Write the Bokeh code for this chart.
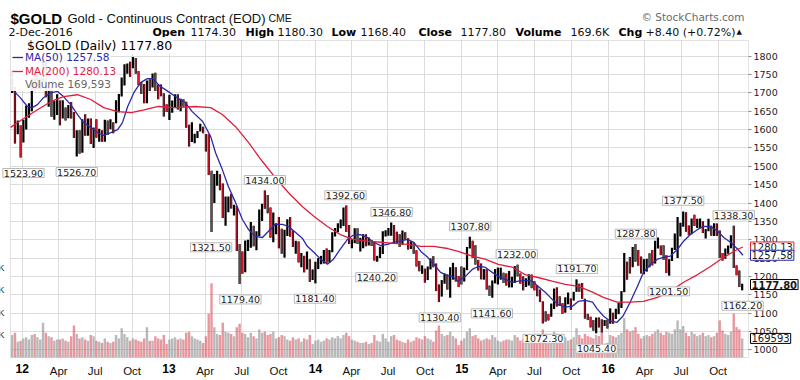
import pandas as pd
from bokeh.plotting import figure
from bokeh.models import (Range1d, FixedTicker, LinearAxis, Label, Legend, LegendItem,
                          ColumnDataSource, BoxAnnotation)
from bokeh.embed import file_html
from bokeh.resources import INLINE

# ------------------------------------------------------------------ data
first_week = "2011-12-09"     # weekly bars, week ending Friday
last_week = "2016-12-02"

high_2011 = [1763, 1716, 1625, 1612]
low_2011 = [1700, 1562, 1587, 1524]
close_2011 = [1713, 1598, 1606, 1566]
vol_2011 = [200, 220, 140, 150]

high_2012 = [1627, 1665, 1672, 1740, 1764, 1752, 1739, 1790, 1792, 1715, 1712, 1678, 1696,
             1679, 1680, 1660, 1667, 1675, 1648, 1598, 1598, 1628, 1642, 1630, 1630, 1606,
             1628, 1602, 1598, 1627, 1625, 1628, 1620, 1680, 1697, 1742, 1778, 1780, 1785,
             1798, 1795, 1760, 1730, 1724, 1734, 1737, 1753, 1755, 1723, 1723, 1699, 1669]
low_2012 = [1565, 1600, 1632, 1650, 1708, 1710, 1710, 1730, 1688, 1662, 1635, 1627, 1640,
            1612, 1630, 1625, 1631, 1630, 1577, 1527, 1534, 1537, 1583, 1583, 1561, 1550,
            1578, 1567, 1567, 1567, 1586, 1601, 1590, 1617, 1647, 1690, 1720, 1752, 1743,
            1767, 1752, 1721, 1697, 1672, 1672, 1705, 1715, 1705, 1683, 1691, 1636, 1648]
close_2012 = [1617, 1631, 1664, 1737, 1725, 1725, 1725, 1777, 1710, 1711, 1658, 1662, 1669,
              1632, 1660, 1642, 1663, 1645, 1580, 1592, 1573, 1622, 1591, 1628, 1572, 1604,
              1579, 1591, 1579, 1618, 1606, 1620, 1617, 1671, 1692, 1736, 1770, 1773, 1772,
              1780, 1759, 1724, 1711, 1675, 1730, 1714, 1750, 1712, 1702, 1696, 1658, 1656]
vol_2012 = [170, 180, 160, 200, 210, 180, 160, 310, 220, 190, 180, 150, 160,
            160, 170, 150, 140, 190, 285, 210, 170, 180, 160, 150, 200, 190,
            150, 140, 130, 170, 140, 130, 140, 200, 170, 260, 210, 180, 150,
            170, 160, 150, 140, 170, 270, 150, 150, 190, 170, 160, 200, 120]

high_2013 = [1695, 1679, 1696, 1696, 1684, 1683, 1676, 1613, 1620, 1589, 1596, 1616, 1608,
             1588, 1587, 1488, 1479, 1488, 1478, 1453, 1418, 1418, 1425, 1395, 1392, 1288,
             1268, 1298, 1300, 1348, 1338, 1323, 1382, 1398, 1434, 1422, 1388, 1374, 1345,
             1362, 1330, 1327, 1356, 1362, 1325, 1297, 1295, 1264, 1256, 1268, 1247, 1219]
low_2013 = [1626, 1646, 1660, 1655, 1650, 1663, 1605, 1554, 1566, 1563, 1577, 1595, 1590,
            1540, 1476, 1321, 1400, 1447, 1435, 1359, 1338, 1375, 1385, 1366, 1269, 1179,
            1207, 1211, 1269, 1278, 1282, 1271, 1310, 1351, 1384, 1372, 1305, 1293, 1315,
            1277, 1262, 1251, 1310, 1308, 1280, 1262, 1238, 1225, 1211, 1219, 1185, 1190]
close_2013 = [1656, 1661, 1687, 1657, 1669, 1667, 1609, 1572, 1573, 1578, 1592, 1608, 1596,
              1581, 1501, 1405, 1462, 1470, 1448, 1366, 1386, 1393, 1383, 1388, 1292, 1234,
              1223, 1277, 1294, 1322, 1310, 1312, 1378, 1396, 1395, 1388, 1309, 1333, 1338,
              1310, 1268, 1315, 1352, 1315, 1287, 1289, 1243, 1250, 1230, 1235, 1203, 1214]
vol_2013 = [160, 170, 180, 160, 170, 160, 220, 230, 190, 170, 160, 150, 130,
            190, 390, 660, 270, 210, 200, 310, 230, 220, 210, 190, 270, 300,
            220, 210, 180, 220, 190, 170, 250, 220, 230, 200, 210, 230, 170,
            180, 200, 190, 160, 150, 180, 160, 170, 140, 170, 160, 200, 120]

high_2014 = [1240, 1250, 1256, 1272, 1276, 1272, 1320, 1332, 1345, 1355, 1388, 1393, 1340,
             1301, 1331, 1331, 1305, 1315, 1315, 1306, 1299, 1295, 1256, 1281, 1323, 1326,
             1332, 1347, 1340, 1322, 1315, 1325, 1320, 1304, 1296, 1293, 1271, 1242, 1230,
             1221, 1227, 1249, 1255, 1235, 1178, 1190, 1208, 1205, 1225, 1237, 1225, 1201]
low_2014 = [1181, 1220, 1233, 1235, 1237, 1238, 1266, 1309, 1320, 1331, 1337, 1321, 1288,
            1277, 1290, 1288, 1268, 1277, 1282, 1284, 1283, 1243, 1240, 1250, 1261, 1309,
            1311, 1311, 1291, 1290, 1280, 1286, 1300, 1273, 1275, 1262, 1227, 1214, 1207,
            1183, 1190, 1219, 1225, 1160, 1130, 1145, 1180, 1164, 1142, 1191, 1186, 1171]
close_2014 = [1238, 1248, 1254, 1270, 1240, 1263, 1318, 1323, 1326, 1340, 1379, 1334, 1294,
              1303, 1318, 1294, 1300, 1303, 1288, 1293, 1292, 1246, 1253, 1274, 1316, 1320,
              1320, 1338, 1310, 1303, 1295, 1310, 1306, 1280, 1287, 1268, 1231, 1216, 1218,
              1192, 1222, 1239, 1231, 1171, 1169, 1185, 1201, 1175, 1191, 1222, 1196, 1195]
vol_2014 = [150, 160, 140, 150, 170, 160, 180, 170, 190, 170, 200, 220, 190,
            160, 150, 140, 130, 130, 140, 120, 130, 200, 150, 140, 210, 170,
            140, 190, 200, 160, 150, 140, 130, 160, 140, 150, 180, 170, 160,
            190, 170, 160, 140, 240, 285, 210, 190, 200, 230, 190, 170, 110]

high_2015 = [1227, 1224, 1280, 1308, 1297, 1285, 1245, 1235, 1220, 1220, 1175, 1189, 1220,
             1224, 1224, 1210, 1208, 1215, 1199, 1228, 1232, 1208, 1200, 1195, 1206, 1205,
             1187, 1175, 1164, 1132, 1105, 1097, 1126, 1167, 1170, 1146, 1127, 1143, 1156,
             1140, 1158, 1192, 1180, 1182, 1139, 1098, 1090, 1081, 1088, 1088, 1083, 1081]
low_2015 = [1178, 1186, 1217, 1276, 1250, 1232, 1216, 1192, 1191, 1164, 1147, 1142, 1181,
            1178, 1191, 1182, 1175, 1170, 1170, 1182, 1200, 1180, 1162, 1171, 1175, 1168,
            1162, 1146, 1130, 1072, 1077, 1080, 1090, 1111, 1118, 1120, 1098, 1101, 1124,
            1109, 1134, 1158, 1158, 1139, 1085, 1081, 1061, 1052, 1045, 1061, 1047, 1065]
close_2015 = [1186, 1216, 1277, 1294, 1279, 1234, 1228, 1203, 1213, 1167, 1153, 1183, 1199,
              1201, 1207, 1204, 1176, 1179, 1188, 1225, 1205, 1190, 1170, 1180, 1201, 1173,
              1163, 1159, 1131, 1099, 1095, 1094, 1113, 1160, 1134, 1121, 1103, 1138, 1145,
              1137, 1155, 1177, 1163, 1142, 1088, 1081, 1076, 1056, 1085, 1075, 1065, 1076]
vol_2015 = [150, 170, 230, 260, 190, 200, 170, 150, 160, 170, 160, 200, 180,
            150, 140, 150, 160, 160, 150, 200, 180, 150, 160, 140, 150, 170,
            150, 170, 200, 250, 210, 170, 180, 230, 210, 170, 160, 180, 150,
            160, 180, 260, 200, 170, 210, 190, 180, 170, 200, 190, 220, 100]

high_2016 = [1082, 1113, 1101, 1112, 1128, 1160, 1264, 1240, 1253, 1280, 1288, 1272, 1254,
             1247, 1248, 1263, 1272, 1297, 1306, 1284, 1285, 1258, 1247, 1278, 1317, 1362,
             1346, 1377, 1375, 1339, 1358, 1368, 1357, 1358, 1350, 1329, 1357, 1338, 1345,
             1344, 1325, 1264, 1276, 1284, 1312, 1338, 1230, 1216, 1180]
low_2016 = [1058, 1071, 1071, 1084, 1097, 1114, 1157, 1191, 1208, 1225, 1240, 1229, 1208,
            1206, 1213, 1225, 1230, 1235, 1276, 1258, 1245, 1209, 1202, 1242, 1272, 1250,
            1309, 1335, 1322, 1312, 1315, 1337, 1332, 1331, 1318, 1303, 1323, 1311, 1310,
            1310, 1250, 1243, 1248, 1262, 1277, 1223, 1203, 1171, 1162]
close_2016 = [1061, 1098, 1090, 1097, 1117, 1158, 1239, 1230, 1221, 1271, 1259, 1253, 1219,
              1223, 1243, 1235, 1231, 1291, 1294, 1273, 1252, 1216, 1244, 1275, 1298, 1322,
              1340, 1366, 1328, 1323, 1357, 1337, 1338, 1344, 1321, 1327, 1334, 1310, 1342,
              1317, 1257, 1253, 1268, 1274, 1304, 1227, 1208, 1178, 1178]
vol_2016 = [130, 200, 190, 180, 200, 220, 350, 250, 230, 240, 270, 210, 170,
            190, 200, 190, 210, 230, 250, 220, 200, 230, 220, 210, 250, 330,
            250, 280, 220, 190, 230, 210, 190, 200, 220, 190, 200, 180, 190,
            220, 330, 240, 210, 200, 230, 390, 270, 250, 170]

# moving averages
ma50_dates = ["2011-12-08", "2011-12-27", "2012-01-14", "2012-01-26", "2012-02-08", "2012-02-23",
              "2012-03-12", "2012-03-29", "2012-04-13", "2012-05-01", "2012-05-18", "2012-06-02",
              "2012-06-20", "2012-07-07", "2012-07-22", "2012-08-09", "2012-08-26", "2012-09-07",
              "2012-09-20", "2012-10-05", "2012-10-22", "2012-11-08", "2012-11-21", "2012-12-11",
              "2012-12-23", "2013-01-17", "2013-02-11", "2013-02-28", "2013-03-26", "2013-04-15",
              "2013-04-27", "2013-05-14", "2013-05-29", "2013-06-16", "2013-07-03", "2013-07-18",
              "2013-08-04", "2013-08-22", "2013-09-06", "2013-09-23", "2013-10-11", "2013-10-26",
              "2013-11-12", "2013-11-30", "2013-12-12", "2013-12-28", "2014-01-14", "2014-01-31",
              "2014-02-15", "2014-03-04", "2014-03-22", "2014-04-05", "2014-04-23", "2014-05-11",
              "2014-05-26", "2014-06-13", "2014-06-30", "2014-07-15", "2014-08-01", "2014-08-19",
              "2014-09-03", "2014-09-21", "2014-10-08", "2014-10-23", "2014-11-09", "2014-11-27",
              "2014-12-08", "2014-12-23", "2015-01-10", "2015-01-27", "2015-02-11", "2015-02-28",
              "2015-03-18", "2015-04-02", "2015-04-19", "2015-05-07", "2015-05-22", "2015-06-08",
              "2015-06-26", "2015-07-10", "2015-07-28", "2015-08-14", "2015-08-29", "2015-09-16",
              "2015-10-04", "2015-10-19", "2015-11-05", "2015-11-23", "2015-12-05", "2015-12-20",
              "2016-01-06", "2016-01-23", "2016-02-07", "2016-02-25", "2016-03-14", "2016-03-29",
              "2016-04-16", "2016-05-03", "2016-05-18", "2016-06-04", "2016-06-22", "2016-07-07",
              "2016-07-24", "2016-08-11", "2016-08-26", "2016-09-12", "2016-09-30", "2016-10-15",
              "2016-11-01", "2016-11-19", "2016-12-02"]
ma50_values = [1709, 1687, 1663, 1660, 1668, 1687, 1700, 1704, 1690, 1668, 1641, 1619,
               1606, 1592, 1584, 1592, 1600, 1619, 1663, 1700, 1728, 1739, 1739, 1717,
               1709, 1690, 1673, 1649, 1622, 1581, 1537, 1491, 1445, 1401, 1355, 1328,
               1309, 1306, 1323, 1342, 1342, 1336, 1320, 1303, 1282, 1266, 1247, 1233,
               1247, 1274, 1301, 1312, 1314, 1306, 1293, 1284, 1287, 1293, 1296, 1301,
               1293, 1268, 1252, 1233, 1211, 1202, 1200, 1187, 1200, 1219, 1227, 1225,
               1211, 1200, 1192, 1184, 1187, 1189, 1187, 1173, 1157, 1138, 1124, 1116,
               1119, 1132, 1135, 1130, 1111, 1092, 1078, 1075, 1092, 1130, 1173, 1211,
               1233, 1247, 1252, 1255, 1274, 1296, 1314, 1328, 1336, 1336, 1323, 1306,
               1293, 1274, 1257.58]

ma200_dates = ["2011-12-03", "2011-12-31", "2012-02-08", "2012-03-12", "2012-04-13", "2012-05-18",
               "2012-06-20", "2012-07-22", "2012-08-26", "2012-09-29", "2012-10-31", "2012-12-05",
               "2013-01-17", "2013-03-07", "2013-04-15", "2013-05-14", "2013-06-16", "2013-07-18",
               "2013-08-22", "2013-09-23", "2013-10-26", "2013-11-30", "2013-12-28", "2014-01-31",
               "2014-03-04", "2014-04-05", "2014-05-11", "2014-06-13", "2014-07-15", "2014-08-19",
               "2014-09-21", "2014-10-23", "2014-11-27", "2014-12-23", "2015-01-27", "2015-02-28",
               "2015-04-02", "2015-05-07", "2015-06-08", "2015-07-10", "2015-08-14", "2015-09-16",
               "2015-10-19", "2015-11-23", "2015-12-20", "2016-01-23", "2016-02-25", "2016-03-29",
               "2016-05-03", "2016-06-04", "2016-07-07", "2016-08-11", "2016-09-12", "2016-10-15",
               "2016-11-19", "2016-12-02"]
ma200_values = [1606, 1627, 1654, 1676, 1690, 1695, 1682, 1660, 1649, 1646, 1654, 1663,
                1660, 1663, 1660, 1641, 1608, 1565, 1513, 1469, 1428, 1390, 1364, 1336,
                1314, 1301, 1296, 1293, 1290, 1287, 1282, 1282, 1276, 1268, 1255, 1247,
                1233, 1225, 1205, 1197, 1187, 1178, 1173, 1157, 1143, 1130, 1130, 1132,
                1143, 1160, 1184, 1205, 1227, 1252, 1274, 1280.13]

# labelled highs and lows
callout_dates = ["2011-12-29", "2012-05-16", "2013-04-16", "2013-06-28", "2013-08-28",
                 "2013-12-31", "2014-03-17", "2014-06-02", "2014-07-10", "2014-11-07",
                 "2015-01-22", "2015-03-17", "2015-05-18", "2015-07-24", "2015-10-15",
                 "2015-12-03", "2016-03-10", "2016-05-31", "2016-07-06", "2016-11-09",
                 "2016-12-01"]
callout_values = [1523.90, 1526.70, 1321.50, 1179.40, 1434.00, 1181.40, 1392.60, 1240.20,
                  1346.80, 1130.40, 1307.80, 1141.60, 1232.00, 1072.30, 1191.70, 1045.40,
                  1287.80, 1201.50, 1377.50, 1338.30, 1162.20]
callout_kind = ["low", "low", "low", "low", "high", "low", "high", "low", "high", "low",
                "high", "low", "high", "low", "high", "low", "high", "low", "high", "high", "low"]

# last values
last_close = 1177.80
last_ma50 = 1257.58
last_ma200 = 1280.13
last_volume = 169593

price_ticks = [1000, 1050, 1100, 1150, 1200, 1250, 1300, 1350, 1400, 1450, 1500,
               1550, 1600, 1650, 1700, 1750, 1800]
volume_ticks = [200000, 400000, 600000, 800000]
volume_tick_labels = ["K", "K", "K", "K"]      # only the unit is visible at the page edge
tick_dates = ["2012-01-01", "2012-04-01", "2012-07-01", "2012-10-01",
              "2013-01-01", "2013-04-01", "2013-07-01", "2013-10-01",
              "2014-01-01", "2014-04-01", "2014-07-01", "2014-10-01",
              "2015-01-01", "2015-04-01", "2015-07-01", "2015-10-01",
              "2016-01-01", "2016-04-01", "2016-07-01", "2016-10-01"]
tick_labels = ["12", "Apr", "Jul", "Oct", "13", "Apr", "Jul", "Oct", "14", "Apr", "Jul", "Oct",
               "15", "Apr", "Jul", "Oct", "16", "Apr", "Jul", "Oct"]

header_line1 = ["$GOLD", "Gold - Continuous Contract (EOD)", "CME"]
header_line2 = ["2-Dec-2016", "Open", "1174.30", "High", "1180.30", "Low", "1168.40",
                "Close", "1177.80", "Volume", "169.6K", "Chg", "+8.40 (+0.72%)", "\u25b2"]
copyright_text = "\u00a9 StockCharts.com"

# ------------------------------------------------------------------ layout geometry (pixels)
W, H = 800, 380
CH_L, CH_R, CH_T, CH_B = 10, 748, 40, 357      # price panel box
PX_1800, PX_1000 = 55.7, 349.3                 # vertical position of the 1800 / 1000 levels
X_JAN2012, PX_PER_DAY = 21.7, 146.5 / 365.25
PX_PER_200K = 22.5
BASE = pd.Timestamp("2012-01-01")


def day(d):
    return int((pd.Timestamp(d) - BASE).days)


def px2day(px):
    return (px - X_JAN2012) / PX_PER_DAY


def day2px(dd):
    return X_JAN2012 + dd * PX_PER_DAY


def py2price(py):
    return 1000 + (PX_1000 - py) * 800.0 / (PX_1000 - PX_1800)


def py2vol(py):
    return (CH_B - py) * 200000.0 / PX_PER_200K


# ------------------------------------------------------------------ build
weeks = pd.date_range(first_week, last_week, freq="W-FRI")
high = high_2011 + high_2012 + high_2013 + high_2014 + high_2015 + high_2016
low = low_2011 + low_2012 + low_2013 + low_2014 + low_2015 + low_2016
close = close_2011 + close_2012 + close_2013 + close_2014 + close_2015 + close_2016
vol_k = vol_2011 + vol_2012 + vol_2013 + vol_2014 + vol_2015 + vol_2016
n = len(weeks)
assert len(high) == n and len(low) == n and len(close) == n and len(vol_k) == n

xs = [day(w - pd.Timedelta(days=2)) for w in weeks]
down = [False] + [c < pc for pc, c in zip(close[:-1], close[1:])]
RED = "#e0182e"
vol_col = ["#d9525e" if d else "#8a8a8a" for d in down]

src = ColumnDataSource(dict(x=xs, high=high, low=low, vol=[v * 1000 for v in vol_k], vc=vol_col))
dsrc = ColumnDataSource(dict(x=[x for x, d in zip(xs, down) if d],
                             high=[h for h, d in zip(high, down) if d],
                             low=[l for l, d in zip(low, down) if d]))

p = figure(width=W, height=H, output_backend="svg", toolbar_location=None,
           x_range=Range1d(px2day(0), px2day(W)),
           y_range=Range1d(py2price(H), py2price(0)), y_axis_location="right",
           min_border=0, min_border_left=0, min_border_right=0, min_border_top=0,
           min_border_bottom=0, background_fill_color="white", border_fill_color="white")
p.extra_y_ranges = {"vol": Range1d(py2vol(H), py2vol(0))}
p.outline_line_color = None

# --- x axis (months) and a second one for the bold years, both on the panel's bottom edge
qt = [day(d) for d in tick_dates]
xa = p.xaxis[0]
xa.ticker = FixedTicker(ticks=qt)
xa.major_label_overrides = {t: ("" if lab.isdigit() else lab) for t, lab in zip(qt, tick_labels)}
xa.fixed_location = py2price(CH_B)
xa.axis_line_color = None
xa.major_tick_line_color = None
xa.minor_tick_line_color = None
xa.major_label_standoff = 1
xa.major_label_text_font = "Liberation Sans"
xa.major_label_text_font_size = "11.5px"
xa.major_label_text_color = "#111111"

yt = [t for t, lab in zip(qt, tick_labels) if lab.isdigit()]
year_axis = LinearAxis(ticker=FixedTicker(ticks=yt),
                       major_label_overrides={t: lab for t, lab in zip(qt, tick_labels) if lab.isdigit()},
                       fixed_location=py2price(CH_B), axis_line_color=None,
                       major_tick_line_color=None, minor_tick_line_color=None,
                       major_label_standoff=0, major_label_text_font="Liberation Sans",
                       major_label_text_font_style="bold", major_label_text_font_size="12px",
                       major_label_text_color="#000000")
p.add_layout(year_axis, "below")

# --- price axis on the right edge of the panel
pa = p.yaxis[0]
pa.ticker = FixedTicker(ticks=price_ticks)
pa.fixed_location = px2day(CH_R)
pa.axis_line_color = None
pa.major_tick_out = 3
pa.major_tick_in = 0
pa.major_tick_line_color = "#8c8c8c"
pa.minor_tick_line_color = None
pa.major_label_standoff = 2
pa.major_label_text_font = "DejaVu Sans"
pa.major_label_text_font_size = "9.5px"
pa.major_label_text_color = "#222222"

# --- volume axis on the left edge
vol_axis = LinearAxis(y_range_name="vol", ticker=FixedTicker(ticks=volume_ticks),
                      major_label_overrides=dict(zip(volume_ticks, volume_tick_labels)),
                      fixed_location=px2day(CH_L), axis_line_color=None,
                      major_tick_line_color=None, minor_tick_line_color=None,
                      major_label_standoff=0, major_label_text_font="Liberation Sans",
                      major_label_text_font_size="9px", major_label_text_color="#222222")
p.add_layout(vol_axis, "left")

p.xgrid.grid_line_color = "#dcdcdc"
p.ygrid.grid_line_color = "#dcdcdc"

# masks that keep the grid inside the price panel, and the panel border
for kw in [dict(bottom=py2price(CH_T)), dict(top=py2price(CH_B)),
           dict(left=px2day(CH_R)), dict(right=px2day(CH_L))]:
    p.add_layout(BoxAnnotation(fill_color="white", fill_alpha=1.0, line_color=None,
                               level="underlay", **kw))
p.add_layout(BoxAnnotation(left=px2day(CH_L), right=px2day(CH_R), top=py2price(CH_T),
                           bottom=py2price(CH_B), fill_alpha=0, line_color="#a0a0a0",
                           line_width=1, level="underlay"))

# volume
p.vbar(x="x", width=6, top="vol", bottom=0, source=src, y_range_name="vol",
       fill_color="vc", fill_alpha=0.6, line_color=None)

# price bars: black range for every week, red core for weeks that closed lower
p.vbar(x="x", width=5.5, top="high", bottom="low", source=src,
       fill_color="#000000", line_color=None)
p.vbar(x="x", width=2.6, top="high", bottom="low", source=dsrc,
       fill_color=RED, line_color=None)

# moving averages
r50 = p.line([day(d) for d in ma50_dates], ma50_values, line_color="#2a2aa6", line_width=1.3)
r200 = p.line([day(d) for d in ma200_dates], ma200_values, line_color="#e01e3c", line_width=1.3)

# legend, one per row so each row keeps its own colour
g_gold = p.vbar(x=[], width=1, top=[], bottom=[], fill_color="#000000", line_color="#000000")
g_vol = p.vbar(x=[], width=1, top=[], bottom=[], fill_color="#8a8a8a", line_color="#8a8a8a")
legend_rows = [
    (f"$GOLD (Daily) {last_close:.2f}", g_gold, "#000000", "12.5px", 4, 53.5),
    (f"MA(50) {last_ma50:.2f}", r50, "#2a2aa6", "10.5px", 2, 64),
    (f"MA(200) {last_ma200:.2f}", r200, "#e01e3c", "10.5px", 2, 78),
    (f"Volume {last_volume:,}", g_vol, "#666666", "10.5px", 2, 90.5),
]
for txt, rend, col, fs, stand, bottom_px in legend_rows:
    lg = Legend(items=[LegendItem(label=txt, renderers=[rend])], location=(11, H - bottom_px),
                orientation="vertical", padding=1, margin=0, spacing=0,
                glyph_width=11, glyph_height=8, label_height=10, label_standoff=stand,
                label_text_font="DejaVu Sans", label_text_font_size=fs,
                label_text_color=col, border_line_alpha=0,
                background_fill_color="white", background_fill_alpha=0.92)
    p.add_layout(lg)

# callouts on highs and lows (kept inside the page at the left edge)
HALF_BOX = 22
for d, v, k in zip(callout_dates, callout_values, callout_kind):
    is_low = k == "low"
    cx = day2px(day(d))
    p.add_layout(Label(x=day(d), y=v, text=f"{v:.2f}", text_align="center",
                       text_baseline="top" if is_low else "bottom",
                       x_offset=max(0.0, HALF_BOX + 1 - cx),
                       y_offset=-11 if is_low else 6,
                       text_font="DejaVu Sans", text_font_size="9.5px", text_color="#222222",
                       background_fill_color="white", border_line_color="#b8b8b8",
                       padding=1))

# value boxes on the price axis
for v, txt, col, bold, rng in [
        (last_ma200, f"{last_ma200:.2f}", "#e01e3c", "normal", "default"),
        (last_ma50, f"{last_ma50:.2f}", "#2a2aa6", "normal", "default"),
        (last_close, f"{last_close:.2f}", "#000000", "bold", "default"),
        (last_volume, f"{last_volume}", "#000000", "normal", "vol")]:
    p.add_layout(Label(x=CH_R + 2, x_units="screen", y=v, y_range_name=rng, text=txt,
                       text_align="left", text_baseline="middle",
                       text_font="DejaVu Sans", text_font_size="10px",
                       text_font_style=bold, text_color="#1a1a1a",
                       background_fill_color="white", border_line_color=col, padding=1))

# header texts: (text, x, baseline, size, style, font, colour)
header = [
    (header_line1[0], 10, 17.5, "15px", "bold", "Liberation Sans", "#000000"),
    (header_line1[1], 67, 17.5, "13px", "normal", "Liberation Sans", "#111111"),
    (header_line1[2], 268, 17.5, "10.5px", "normal", "Liberation Sans", "#111111"),
    (copyright_text, 641, 16.5, "10.5px", "normal", "DejaVu Sans", "#6a6a6a"),
]
line2_x = [8, 152, 190, 245, 277, 331, 360, 418, 460, 515, 570, 618, 645, 736]
for txt, hx in zip(header_line2, line2_x):
    bold = txt in ("Open", "High", "Low", "Close", "Volume", "Chg")
    size = "7px" if txt == "\u25b2" else "11px"
    header.append((txt, hx, 31.7, size, "bold" if bold else "normal", "DejaVu Sans",
                   "#000000" if bold else "#111111"))
for txt, hx, hy, fs, st, fnt, col in header:
    p.add_layout(Label(x=hx, y=H - hy, x_units="screen", y_units="screen",
                       text=txt, text_align="left", text_baseline="alphabetic",
                       text_font=fnt, text_font_size=fs, text_font_style=st,
                       text_color=col))

open("out.html", "w").write(file_html(p, INLINE))
